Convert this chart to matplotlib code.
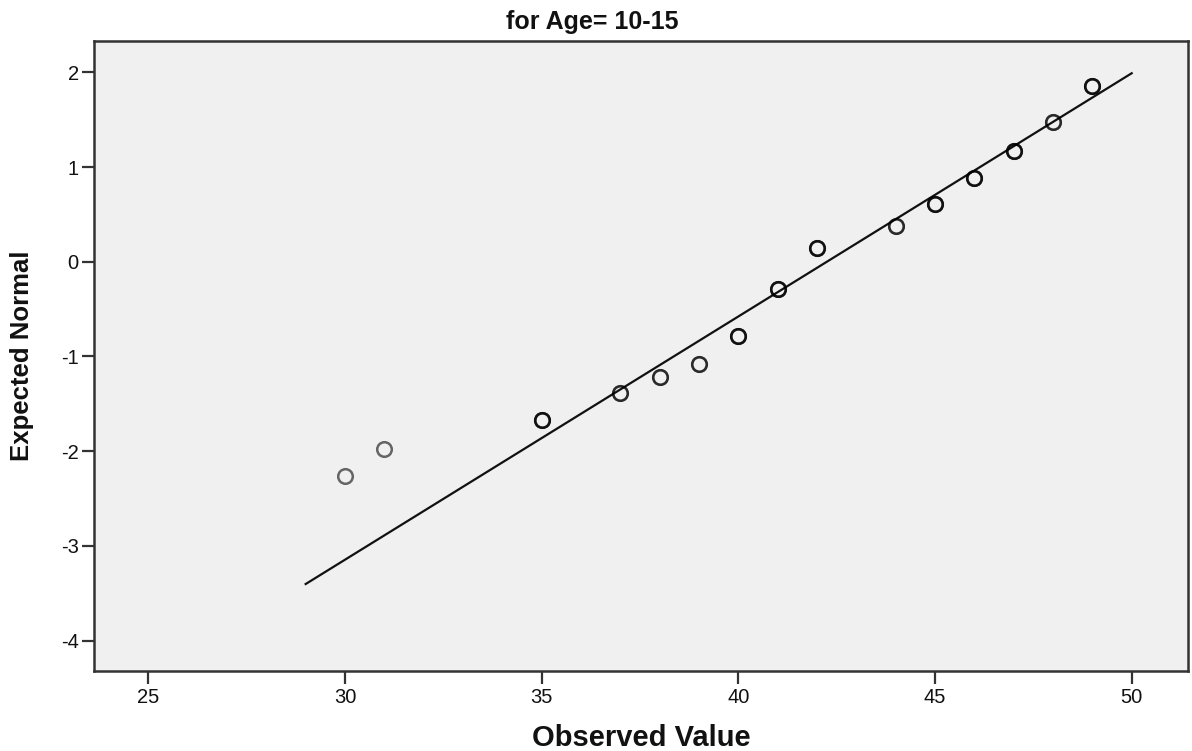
import matplotlib
matplotlib.use("Agg")
import matplotlib.pyplot as plt

# Observed scores and their expected normal quantiles
observed = [30, 31, 35, 37, 38, 39, 40, 41, 42, 44, 45, 46, 47, 48, 49]
expected = [-2.26, -1.98, -1.67, -1.39, -1.22, -1.08, -0.78, -0.29, 0.14,
            0.38, 0.61, 0.88, 1.17, 1.47, 1.86]
# number of cases sharing each observed value (tied cases overplot)
cases = [1, 1, 3, 2, 2, 2, 3, 3, 3, 2, 3, 3, 3, 2, 3]

# reference normal line: expected = (observed - mean) / sd
line_mean = 42.25
line_sd = 3.895
line_range = [29, 50]

x_ticks = [25, 30, 35, 40, 45, 50]
y_ticks = [-4, -3, -2, -1, 0, 1, 2]

plt.rcParams["font.family"] = ["Liberation Sans", "DejaVu Sans"]
plt.rcParams["axes.unicode_minus"] = False

fig = plt.figure(figsize=(11.92, 7.51), dpi=100)
ax = fig.add_axes([0.0789, 0.1065, 0.9966 - 0.0789, 0.9454 - 0.1065])
ax.set_facecolor("#f0f0f0")

ax.plot(line_range, [(v - line_mean) / line_sd for v in line_range],
        color="#111111", lw=1.6, zorder=2)

for xv, yv, n in zip(observed, expected, cases):
    for _ in range(n):
        ax.plot([xv], [yv], linestyle="none", marker="o", markersize=10.5,
                markerfacecolor="none", markeredgecolor="black",
                markeredgewidth=1.8, alpha=0.58, zorder=3)

ax.set_xlim(23.62, 51.43)
ax.set_ylim(-4.32, 2.33)
ax.set_xticks(x_ticks)
ax.set_yticks(y_ticks)

for side in ax.spines.values():
    side.set_color("#333333")
    side.set_linewidth(1.8)

ax.tick_params(axis="both", direction="out", length=9, width=1.6,
               color="#333333", labelsize=14.5, labelcolor="#111111")
ax.tick_params(axis="x", pad=3)
ax.tick_params(axis="y", pad=2)

ax.set_xlabel("Observed Value", fontsize=21, fontweight="bold", color="#111111")
ax.set_ylabel("Expected Normal", fontsize=18.5, fontweight="bold", color="#111111")
ax.xaxis.set_label_coords(0.5, -0.084)
ax.yaxis.set_label_coords(-0.055, 0.5)

fig.text(0.497, 1 - 21.5 / 751, "for Age= 10-15", ha="center", va="center",
         fontsize=18, fontweight="bold", color="#111111")

fig.savefig("out.png", dpi=100, facecolor="white")
